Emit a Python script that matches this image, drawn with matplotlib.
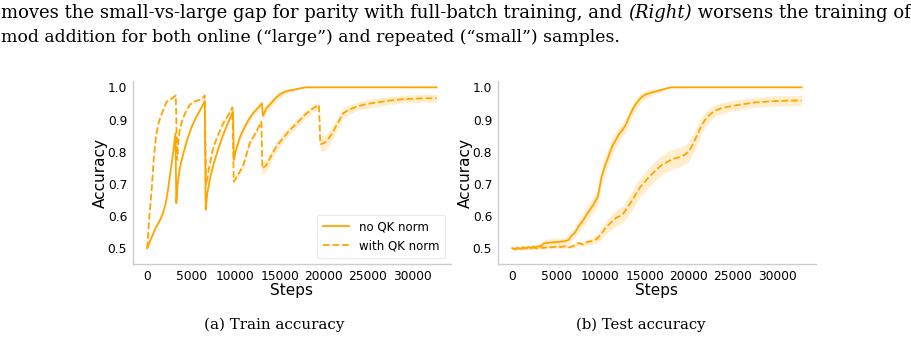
import matplotlib
matplotlib.use("Agg")
import matplotlib.pyplot as plt
import numpy as np

# ---------------- data ----------------
# Train accuracy, no QK norm (solid)
train_noqk_x = [0, 300, 600, 900, 1200, 1500, 1800, 2100, 2400, 2700, 3000, 3200,
                3300, 3450, 3700, 4000, 4500, 5000, 5500, 6000, 6300, 6520,
                6620, 6800, 7100, 7500, 8000, 8500, 9000, 9400, 9720,
                9820, 10000, 10500, 11000, 11500, 12000, 12500, 13000,
                13100, 13500, 14000, 14500, 15000, 15500, 16000, 16500, 17000, 17500, 18000,
                20000, 24000, 28000, 32768]
train_noqk_y = [0.50, 0.52, 0.54, 0.56, 0.575, 0.59, 0.61, 0.64, 0.69, 0.75, 0.81, 0.857,
                0.64, 0.70, 0.75, 0.785, 0.835, 0.875, 0.905, 0.93, 0.945, 0.958,
                0.62, 0.67, 0.715, 0.76, 0.805, 0.845, 0.88, 0.905, 0.924,
                0.774, 0.80, 0.845, 0.875, 0.90, 0.92, 0.935, 0.95,
                0.911, 0.935, 0.95, 0.965, 0.978, 0.985, 0.99, 0.992, 0.995, 0.998, 1.0,
                1.0, 1.0, 1.0, 1.0]
train_noqk_err = [0.003, 0.004, 0.004, 0.004, 0.004, 0.004, 0.004, 0.005, 0.005, 0.005, 0.005, 0.005,
                  0.006, 0.006, 0.006, 0.006, 0.006, 0.006, 0.006, 0.005, 0.005, 0.005,
                  0.008, 0.008, 0.007, 0.007, 0.007, 0.007, 0.006, 0.006, 0.006,
                  0.012, 0.012, 0.012, 0.010, 0.010, 0.009, 0.009, 0.008,
                  0.012, 0.012, 0.012, 0.010, 0.010, 0.008, 0.006, 0.005, 0.003, 0.002, 0.001,
                  0.0, 0.0, 0.0, 0.0]

# Train accuracy, with QK norm (dashed)
train_qk_x = [0, 250, 500, 750, 1000, 1300, 1600, 1900, 2200, 2600, 3000, 3240,
              3390, 3550, 3700, 4000, 4300, 4800, 5200, 5600, 6000, 6300, 6520,
              6670, 7000, 7500, 8000, 8600, 9200, 9650,
              9800, 10200, 10850, 11600, 12300, 12930,
              13040, 13500, 14000, 14600, 15300, 16100, 17000, 18000, 18800, 19450,
              19600, 20000, 20400, 21000, 21500, 22200, 23000, 23700, 24500, 25500, 26500,
              27500, 28500, 29500, 30500, 31500, 32768]
train_qk_y = [0.50, 0.60, 0.68, 0.78, 0.85, 0.89, 0.915, 0.935, 0.955, 0.962, 0.97, 0.975,
              0.774, 0.84, 0.87, 0.90, 0.92, 0.945, 0.955, 0.958, 0.962, 0.968, 0.975,
              0.697, 0.75, 0.815, 0.85, 0.888, 0.915, 0.938,
              0.707, 0.725, 0.755, 0.826, 0.86, 0.893,
              0.748, 0.758, 0.785, 0.815, 0.84, 0.866, 0.89, 0.918, 0.935, 0.945,
              0.824, 0.826, 0.835, 0.86, 0.885, 0.92, 0.932, 0.94, 0.946, 0.951, 0.955,
              0.959, 0.962, 0.964, 0.965, 0.966, 0.966]
train_qk_err = [0.003, 0.004, 0.004, 0.004, 0.004, 0.003, 0.003, 0.003, 0.003, 0.003, 0.003, 0.003,
                0.005, 0.005, 0.005, 0.004, 0.004, 0.004, 0.003, 0.003, 0.003, 0.003, 0.003,
                0.006, 0.006, 0.006, 0.005, 0.005, 0.005, 0.005,
                0.008, 0.008, 0.008, 0.008, 0.008, 0.008,
                0.02, 0.018, 0.016, 0.015, 0.014, 0.013, 0.012, 0.011, 0.01, 0.008,
                0.025, 0.024, 0.022, 0.02, 0.018, 0.016, 0.014, 0.013, 0.013, 0.013, 0.013,
                0.012, 0.012, 0.012, 0.012, 0.012, 0.012]

# Test accuracy, no QK norm (solid)
test_noqk_x = [0, 300, 600, 900, 1200, 1500, 1800, 2100, 2400, 2700, 3000, 3300,
               3600, 4200, 4800, 5400, 6000, 6400, 6700, 7100, 7500, 8000, 8600,
               9200, 9700, 10100, 10500, 10900, 11300, 11700, 12100, 12500,
               12900, 13300, 13700, 14100, 14600, 15100, 15700, 16300, 16900, 17500,
               18000, 22000, 26000, 30000, 32768]
test_noqk_y = [0.500, 0.497, 0.502, 0.498, 0.503, 0.500, 0.504, 0.501, 0.505, 0.503, 0.506, 0.508,
               0.515, 0.517, 0.519, 0.520, 0.522, 0.526, 0.539, 0.548, 0.567, 0.585, 0.612,
               0.635, 0.66, 0.72, 0.755, 0.785, 0.815, 0.835, 0.855, 0.868,
               0.885, 0.912, 0.935, 0.952, 0.968, 0.978, 0.983, 0.988, 0.992, 0.997,
               1.0, 1.0, 1.0, 1.0, 1.0]
test_noqk_err = [0.004, 0.004, 0.004, 0.004, 0.004, 0.004, 0.004, 0.005, 0.006, 0.007, 0.008, 0.010,
                 0.012, 0.012, 0.012, 0.012, 0.012, 0.013, 0.014, 0.016, 0.018, 0.02, 0.022,
                 0.024, 0.025, 0.026, 0.026, 0.026, 0.025, 0.024, 0.022, 0.02,
                 0.02, 0.02, 0.018, 0.016, 0.014, 0.012, 0.01, 0.008, 0.005, 0.003,
                 0.001, 0.0, 0.0, 0.0, 0.0]

# Test accuracy, with QK norm (dashed)
test_qk_x = [0, 400, 800, 1200, 1600, 2000, 2400, 2800, 3200, 3600, 4000, 4500,
             5000, 5500, 6000, 6500, 7000, 7500, 8000, 8500, 9000, 9400,
             9800, 10200, 10600, 11000, 11400, 11800, 12200, 12600, 13000,
             13500, 14000, 14500, 15000, 15500, 16000, 16500, 17000, 17500, 18000,
             18500, 19000, 19500, 20000, 20500, 21000, 21500, 22000, 22500, 23000,
             23700, 24500, 25500, 26500, 27500, 28500, 29500, 30500, 31500, 32768]
test_qk_y = [0.500, 0.497, 0.500, 0.498, 0.501, 0.499, 0.502, 0.500, 0.503, 0.501, 0.504, 0.503,
             0.505, 0.504, 0.506, 0.503, 0.508, 0.516, 0.512, 0.519, 0.522, 0.526,
             0.535, 0.548, 0.565, 0.575, 0.585, 0.595, 0.600, 0.608, 0.625,
             0.645, 0.668, 0.69, 0.705, 0.722, 0.735, 0.748, 0.76, 0.767, 0.775,
             0.78, 0.783, 0.79, 0.80, 0.825, 0.855, 0.885, 0.905, 0.918, 0.928,
             0.935, 0.94, 0.945, 0.949, 0.953, 0.955, 0.957, 0.958, 0.959, 0.959]
test_qk_err = [0.004, 0.004, 0.004, 0.004, 0.004, 0.004, 0.004, 0.004, 0.004, 0.004, 0.004, 0.004,
               0.005, 0.005, 0.005, 0.005, 0.006, 0.006, 0.007, 0.008, 0.01, 0.012,
               0.014, 0.018, 0.02, 0.022, 0.024, 0.025, 0.026, 0.027, 0.028,
               0.03, 0.03, 0.03, 0.03, 0.03, 0.03, 0.03, 0.03, 0.03, 0.03,
               0.03, 0.03, 0.03, 0.03, 0.03, 0.028, 0.025, 0.022, 0.02, 0.018,
               0.017, 0.016, 0.016, 0.016, 0.016, 0.016, 0.016, 0.016, 0.016, 0.016]

xticks = [0, 5000, 10000, 15000, 20000, 25000, 30000]
yticks = [0.5, 0.6, 0.7, 0.8, 0.9, 1.0]
legend_labels = ["no QK norm", "with QK norm"]
captions = ["(a) Train accuracy", "(b) Test accuracy"]
header_line1 = ["moves the small-vs-large gap for parity with full-batch training, and ",
                "(Right)", " worsens the training of"]
header_line2 = "mod addition for both online (\u201clarge\u201d) and repeated (\u201csmall\u201d) samples."

# ---------------- plotting ----------------
W, H = 912, 352
fig = plt.figure(figsize=(W / 100, H / 100), dpi=100)
COLOR = "#FFA500"
SPINE = "#cccccc"

def make_axes(left_px, right_px):
    bottom_px, top_px = 264.3, 80.9
    return fig.add_axes([left_px / W, 1 - bottom_px / H,
                         (right_px - left_px) / W, (bottom_px - top_px) / H])

ax1 = make_axes(132.7, 451.0)
ax2 = make_axes(497.7, 816.0)

series = [
    (ax1, train_noqk_x, train_noqk_y, train_noqk_err, train_qk_x, train_qk_y, train_qk_err),
    (ax2, test_noqk_x, test_noqk_y, test_noqk_err, test_qk_x, test_qk_y, test_qk_err),
]
for ax, x1, y1, e1, x2, y2, e2 in series:
    x1, y1, e1 = map(np.asarray, (x1, y1, e1))
    x2, y2, e2 = map(np.asarray, (x2, y2, e2))
    ax.fill_between(x1, y1 - e1, np.minimum(y1 + e1, 1.0), color=COLOR, alpha=0.2, lw=0)
    ax.fill_between(x2, y2 - e2, y2 + e2, color=COLOR, alpha=0.2, lw=0)
    ax.plot(x1, y1, color=COLOR, lw=1.3, ls="-", label=legend_labels[0])
    ax.plot(x2, y2, color=COLOR, lw=1.3, ls="--", label=legend_labels[1])
    ax.set_xlim(-1640, 34400)
    ax.set_ylim(0.45, 1.02)
    ax.set_xticks(xticks)
    ax.set_yticks(yticks)
    ax.set_xticklabels([str(t) for t in xticks])
    ax.set_yticklabels([f"{t:.1f}" for t in yticks])
    ax.tick_params(length=0, labelsize=8.8, pad=4, colors="black")
    for s in ["top", "right"]:
        ax.spines[s].set_visible(False)
    for s in ["left", "bottom"]:
        ax.spines[s].set_color(SPINE)
        ax.spines[s].set_linewidth(1.0)
    ax.set_xlabel("Steps", fontsize=11, labelpad=0)
    ax.set_ylabel("Accuracy", fontsize=11, labelpad=0)

leg = ax1.legend(loc="lower right", fontsize=8.5, frameon=True, fancybox=True,
                 handlelength=2.2, borderpad=0.5, labelspacing=0.5,
                 bbox_to_anchor=(1.0, 0.0))
leg.get_frame().set_edgecolor("#e6e6e6")
leg.get_frame().set_linewidth(0.8)

serif = ["DejaVu Serif"]
fig.canvas.draw()
renderer = fig.canvas.get_renderer()

def fitted_size(pieces, styles, target_width, base=12.0):
    total = 0.0
    for p, st in zip(pieces, styles):
        t = fig.text(0, 0, p, fontsize=base, family=serif, style=st)
        total += t.get_window_extent(renderer).width
        t.remove()
    return base * target_width / total

# captions
for cap, cx, cw in zip(captions, [274.0, 641.0], [140.0, 129.0]):
    fs = fitted_size([cap], ["normal"], cw)
    fig.text(cx / W, 1 - 328.5 / H, cap, ha="center", va="baseline",
             fontsize=fs, family=serif)

# header text (line 1 with italic "(Right)")
styles = ["normal", "italic", "normal"]
fs1 = fitted_size(header_line1, styles, 905.0)
x = 1.0
for piece, st in zip(header_line1, styles):
    t = fig.text(x / W, 1 - 18.3 / H, piece, ha="left", va="baseline",
                 fontsize=fs1, family=serif, style=st)
    x += t.get_window_extent(renderer).width
fs2 = fitted_size([header_line2], ["normal"], 618.0)
fig.text(1.0 / W, 1 - 41.7 / H, header_line2, ha="left", va="baseline",
         fontsize=fs2, family=serif)

fig.savefig("out.png", dpi=100)
